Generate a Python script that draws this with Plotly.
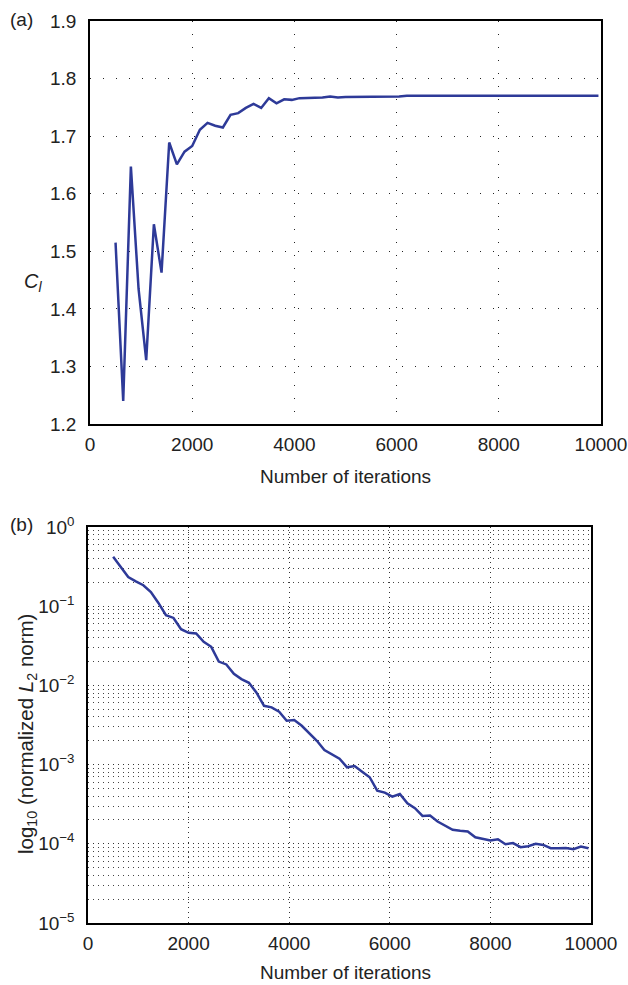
import plotly.graph_objects as go

# ---- data ----
iterations = [500, 650, 800, 950, 1100, 1250, 1400, 1550, 1700, 1850,
              2000, 2150, 2300, 2450, 2600, 2750, 2900, 3050, 3200, 3350,
              3500, 3650, 3800, 3950, 4100, 4250, 4400, 4550, 4700, 4850,
              5000, 5150, 5300, 5450, 5600, 5750, 5900, 6050, 6200, 6350,
              6500, 6650, 6800, 6950, 7100, 7250, 7400, 7550, 7700, 7850,
              8000, 8150, 8300, 8450, 8600, 8750, 8900, 9050, 9200, 9350,
              9500, 9650, 9800, 9950]

cl_values = [1.515, 1.240, 1.647, 1.435, 1.311, 1.547, 1.463, 1.689, 1.651, 1.673,
             1.683, 1.711, 1.723, 1.718, 1.715, 1.737, 1.740, 1.749, 1.756, 1.749,
             1.766, 1.757, 1.764, 1.763, 1.766, 1.766, 1.766, 1.767, 1.769, 1.767,
             1.768, 1.768, 1.769, 1.768, 1.769, 1.769, 1.769, 1.769, 1.770, 1.770,
             1.770, 1.770, 1.770, 1.770, 1.770, 1.770, 1.770, 1.770, 1.770, 1.770,
             1.770, 1.770, 1.770, 1.770, 1.770, 1.770, 1.770, 1.770, 1.770, 1.770,
             1.770, 1.770, 1.770, 1.770]

l2_norm = [0.42, 0.313, 0.234, 0.206, 0.184, 0.151, 0.110, 0.0769, 0.0711, 0.0513,
           0.0462, 0.0452, 0.0355, 0.0307, 0.0200, 0.0184, 0.0140, 0.0120, 0.0108, 0.0081,
           0.00553, 0.00528, 0.00465, 0.00358, 0.00365, 0.00309, 0.00245, 0.00200, 0.00153, 0.00135,
           0.00119, 0.000925, 0.000960, 0.000813, 0.000692, 0.000469, 0.000443, 0.000394, 0.000426, 0.000325,
           0.000282, 0.000225, 0.000227, 0.000191, 0.000170, 0.000150, 0.000146, 0.000143, 0.000121, 0.000115,
           0.000110, 0.000114, 0.0000989, 0.000102, 0.0000906, 0.0000933, 0.0000998, 0.0000968, 0.0000881, 0.0000881,
           0.0000887, 0.0000855, 0.0000923, 0.0000881]

x_ticks = [0, 2000, 4000, 6000, 8000, 10000]
x_ticklabels = ["0", "2000", "4000", "6000", "8000", "10000"]
cl_ticks = [1.2, 1.3, 1.4, 1.5, 1.6, 1.7, 1.8, 1.9]
log_ticks = [1, 0.1, 0.01, 0.001, 0.0001, 0.00001]
log_ticklabels = ["10<sup>0</sup>", "10<sup>\u22121</sup>", "10<sup>\u22122</sup>",
                  "10<sup>\u22123</sup>", "10<sup>\u22124</sup>", "10<sup>\u22125</sup>"]
minor_log = [m * d for d in log_ticks[1:] for m in range(2, 10)]

LINE = "#2e3a98"
FONT = "Liberation Sans, Arial, sans-serif"
FS = 19
W, H = 628, 985


def px(x):
    return x / W


def py(y):
    return 1 - y / H


fig = go.Figure()
fig.add_trace(go.Scatter(x=iterations, y=cl_values, mode="lines",
                         line=dict(color=LINE, width=2.5), xaxis="x", yaxis="y",
                         showlegend=False))
fig.add_trace(go.Scatter(x=iterations, y=l2_norm, mode="lines",
                         line=dict(color=LINE, width=2.5), xaxis="x2", yaxis="y2",
                         showlegend=False))

axis_common = dict(showline=True, mirror=True, linecolor="black", linewidth=1.5,
                   ticks="", zeroline=False, automargin=False,
                   ticklabeloverflow="allow",
                   tickfont=dict(family=FONT, size=FS, color="#222"))

fig.update_layout(
    width=W, height=H,
    margin=dict(l=0, r=0, t=0, b=0, autoexpand=False),
    paper_bgcolor="white", plot_bgcolor="white",
    font=dict(family=FONT, size=FS, color="#222"),
    xaxis=dict(domain=[px(90), px(601)], anchor="y", range=[0, 10000],
               tickvals=x_ticks, ticktext=x_ticklabels, showgrid=True,
               gridcolor="#222", gridwidth=1, griddash="1px,12px",
               ticklabelstandoff=2, **axis_common),
    yaxis=dict(domain=[py(424), py(21)], anchor="x", range=[1.2, 1.9],
               tickvals=cl_ticks, tickformat=".1f", showgrid=True, gridcolor="#222",
               gridwidth=1, griddash="1px,12px", ticklabelstandoff=8,
               **axis_common),
    xaxis2=dict(domain=[px(88), px(591)], anchor="y2", range=[0, 10000],
                tickvals=x_ticks, ticktext=x_ticklabels, showgrid=True,
                gridcolor="#333", gridwidth=1, griddash="1px,4px",
                ticklabelstandoff=2, **axis_common),
    yaxis2=dict(domain=[py(923), py(527)], anchor="x2", type="log",
                range=[-5, 0], tickvals=log_ticks, ticktext=log_ticklabels,
                showgrid=True, gridcolor="#333", gridwidth=1, griddash="1px,4px",
                ticklabelstandoff=8,
                minor=dict(tickvals=minor_log, showgrid=True, gridcolor="#444",
                           gridwidth=1, griddash="1px,4px", ticks=""),
                **axis_common),
    annotations=[
        dict(text="(a)", x=px(8), y=py(20), xref="paper", yref="paper",
             xanchor="left", yanchor="middle", showarrow=False,
             font=dict(family=FONT, size=FS, color="#222")),
        dict(text="(b)", x=px(8), y=py(524), xref="paper", yref="paper",
             xanchor="left", yanchor="middle", showarrow=False,
             font=dict(family=FONT, size=FS, color="#222")),
        dict(text="<i>C<sub>l</sub></i>", x=px(33), y=py(283), xref="paper",
             yref="paper", xanchor="center", yanchor="middle", showarrow=False,
             font=dict(family=FONT, size=20, color="#222")),
        dict(text="log<sub>10</sub> (normalized <i>L</i><sub>2</sub> norm)",
             x=px(27), y=py(734), xref="paper", yref="paper", textangle=-90,
             xanchor="center", yanchor="middle", showarrow=False,
             font=dict(family=FONT, size=20.5, color="#222")),
        dict(text="Number of iterations", x=px(345), y=py(476), xref="paper",
             yref="paper", xanchor="center", yanchor="middle", showarrow=False,
             font=dict(family=FONT, size=FS, color="#222")),
        dict(text="Number of iterations", x=px(345), y=py(972), xref="paper",
             yref="paper", xanchor="center", yanchor="middle", showarrow=False,
             font=dict(family=FONT, size=FS, color="#222")),
    ],
)

# remove the default 8px page margin so the figure fills the 628x985 window
fig.write_html("out.html",
               config={"displayModeBar": False},
               post_script="document.body.style.margin='0';"
                           "document.documentElement.style.overflow='hidden';")
